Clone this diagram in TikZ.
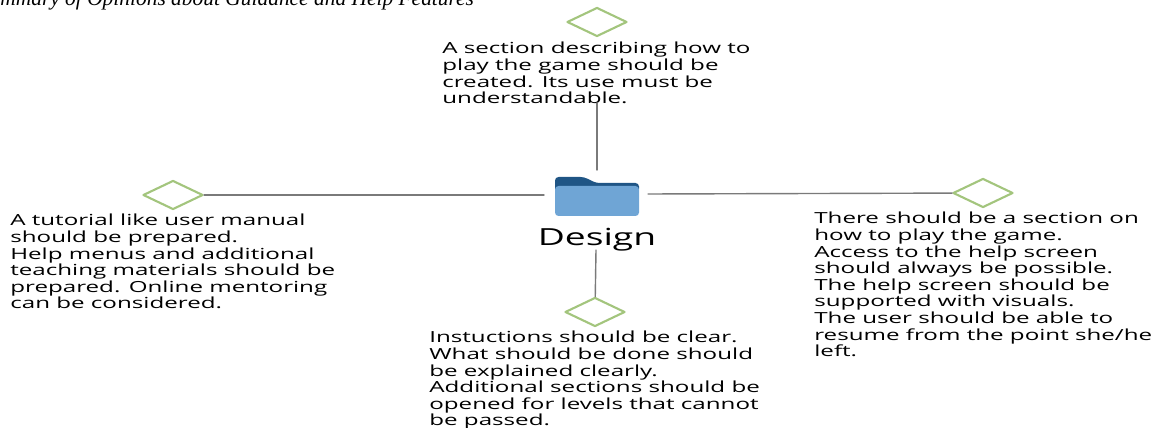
\documentclass[tikz,border=0pt]{standalone}
\usepackage{fontspec}
\setmainfont{Liberation Serif}
\newfontfamily\notefont[FakeStretch=1.58]{Open Sans}
\definecolor{diamondgreen}{HTML}{A3C57D}
\definecolor{folderlight}{HTML}{6FA5D5}
\definecolor{folderdark}{HTML}{1F5585}
\definecolor{linkgray}{HTML}{7A7A7A}
\tikzset{
	note/.style={anchor=north west, align=left, inner sep=0pt, text depth=0pt, font=\notefont\fontsize{8.7}{9.45}\selectfont},
	leaf/.style={shape=diamond, draw=diamondgreen, line width=1.2pt, fill=white, inner sep=0pt, minimum width=1.2cm, minimum height=0.58cm},
	link/.style={draw=linkgray, line width=0.8pt}
}
\usetikzlibrary{shapes.geometric}
\begin{document}
\begin{tikzpicture}[x=0.02cm, y=-0.02cm, line join=round, line cap=round]
	\useasboundingbox (0,0) rectangle (1156,428);
	\node[anchor=base west, inner sep=0pt, font=\itshape\fontsize{12.2}{14}\selectfont] (title) at (0,6) {mmary of Opinions about Guidance and Help Features};
	% centre
	\node[inner sep=0pt, minimum width=1.7cm, minimum height=0.8cm] (folder) at (597,196) {};
	\fill[folderdark, rounded corners=2pt] (555,192) -- (555,177) -- (584,177) -- (596,183) -- (639,183) -- (639,192) -- cycle;
	\fill[folderlight, rounded corners=2pt] (555,186) -- (639,186) -- (639,216) -- (555,216) -- cycle;
	\node[font=\notefont\fontsize{13.4}{15}\selectfont, inner sep=0pt] (design) at (597,240) {Design};
	% leaves
	\node[leaf] (top) at (597,22) {};
	\node[leaf] (left) at (173,195) {};
	\node[leaf] (right) at (983,193) {};
	\node[leaf] (bottom) at (595,312) {};
	% notes
	\node[note] (topnote) at (442,42) {A section describing how to\\play the game should be\\created. Its use must be\\understandable.};
	\node[note] (leftnote) at (10,214) {A tutorial like user manual\\should be prepared.\\Help menus and additional\\teaching materials should be\\prepared. Online mentoring\\can be considered.};
	\node[note] (rightnote) at (814,212) {There should be a section on\\how to play the game.\\Access to the help screen\\should always be possible.\\The help screen should be\\supported with visuals.\\The user should be able to\\resume from the point she/he\\left.};
	\node[note] (bottomnote) at (429,331) {Instuctions should be clear.\\What should be done should\\be explained clearly.\\Additional sections should be\\opened for levels that cannot\\be passed.};
	% links
	\draw[link] (597,103) coordinate (topend) -- (597,170) coordinate (foldertop);
	\draw[link] (left) -- (544,195) coordinate (folderleft);
	\draw[link] (right) -- (648,194) coordinate (folderright);
	\draw[link] (596,250) coordinate (designend) -- (bottom);
\end{tikzpicture}
\end{document}
